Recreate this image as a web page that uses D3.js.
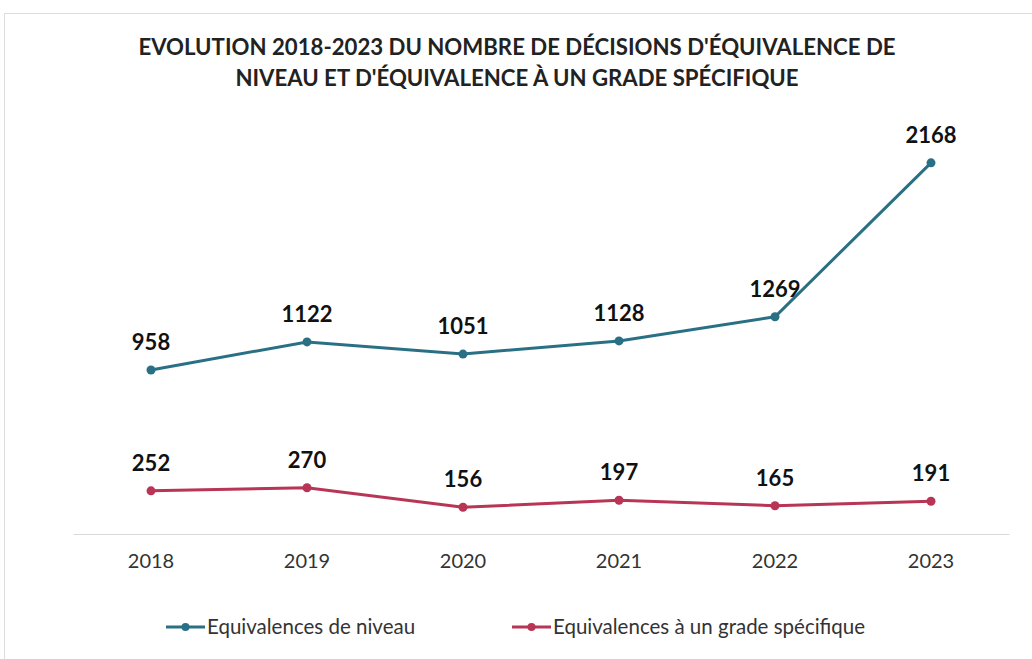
<!DOCTYPE html>
<html><head><meta charset="utf-8">
<script src="https://cdn.jsdelivr.net/npm/d3@7/dist/d3.min.js"></script>
<style>body{margin:0;background:#fff;}svg{display:block;font-family:Lato,"Open Sans",sans-serif;}</style>
</head><body><svg id="c" width="1032" height="659"></svg>
<script>
const years = ["2018","2019","2020","2021","2022","2023"];
const niveau = [958,1122,1051,1128,1269,2168];
const grade = [252,270,156,197,165,191];
const seriesNames = ["Equivalences de niveau","Equivalences à un grade spécifique"];
const colors = ["#2A7085","#B83555"];
const titleLines = ["EVOLUTION 2018-2023 DU NOMBRE DE DÉCISIONS D'ÉQUIVALENCE DE","NIVEAU ET D'ÉQUIVALENCE À UN GRADE SPÉCIFIQUE"];

const svg = d3.select("#c");
svg.append("rect").attr("x",4.5).attr("y",13.5).attr("width",1040).attr("height",700)
  .attr("fill","none").attr("stroke","#dcdcdc");

svg.selectAll("text.title").data(titleLines).join("text").attr("class","title")
  .attr("x",517).attr("y",(d,i)=>55+i*31).attr("text-anchor","middle")
  .attr("font-size",22.2).attr("font-weight",700).attr("fill","#222").text(d=>d);

const x = d3.scaleBand().domain(years).range([73,1009]);
const y = d3.scaleLinear().domain([0,2500]).range([534,106]);

const xAxis = svg.append("g").attr("transform","translate(0,534)").call(d3.axisBottom(x).tickSize(0).tickPadding(20));
xAxis.select(".domain").attr("stroke","#d9d9d9").attr("stroke-width",1);
xAxis.selectAll("text").attr("font-size",20).attr("fill","#333").attr("font-family","Lato,'Open Sans',sans-serif");

const data = [niveau, grade];
const line = d3.line().x((d,i)=>x(years[i])+x.bandwidth()/2).y(d=>y(d));
data.forEach((s,k)=>{
  svg.append("path").datum(s).attr("d",line).attr("fill","none").attr("stroke",colors[k]).attr("stroke-width",3);
  svg.selectAll(null).data(s).join("circle")
    .attr("cx",(d,i)=>x(years[i])+x.bandwidth()/2).attr("cy",d=>y(d)).attr("r",4.5).attr("fill",colors[k]);
  svg.selectAll(null).data(s).join("text")
    .attr("x",(d,i)=>x(years[i])+x.bandwidth()/2).attr("y",d=>y(d)-20)
    .attr("text-anchor","middle").attr("font-size",22).attr("font-weight",700).attr("fill","#111").text(d=>d);
});

const legX = [166,512];
seriesNames.forEach((n,k)=>{
  const g = svg.append("g").attr("transform",`translate(${legX[k]},627)`);
  g.append("line").attr("x1",0).attr("x2",39).attr("stroke",colors[k]).attr("stroke-width",3);
  g.append("circle").attr("cx",19.5).attr("r",4).attr("fill",colors[k]);
  g.append("text").attr("x",41).attr("y",7).attr("font-size",20.5).attr("fill","#333").text(n);
});
</script></body></html>
